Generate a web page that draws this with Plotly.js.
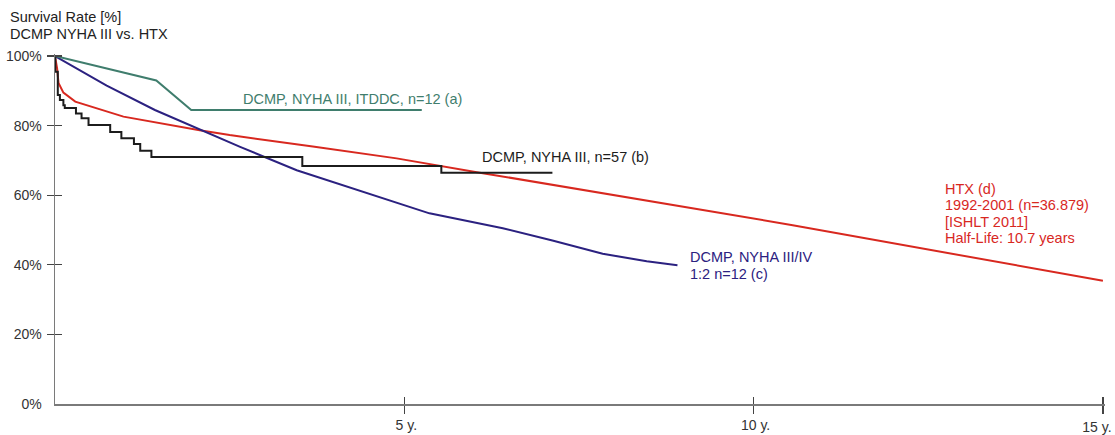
<!DOCTYPE html>
<html>
<head>
<meta charset="utf-8">
<script src="https://cdn.plot.ly/plotly-3.0.1.min.js"></script>
<style>
  html, body { margin: 0; padding: 0; background: #fff; }
  #chart { width: 1115px; height: 435px; }
</style>
</head>
<body>
<div id="chart"></div>
<script>
// ---- data (years after diagnosis / transplant, survival %) ----
const yearsA = [0, 1.45, 1.95, 5.25];
const survA  = [100, 93.0, 84.5, 84.5];
const labelA = ["DCMP, NYHA III, ITDDC, n=12 (a)"];

const yearsB = [0, 0.005, 0.04, 0.07, 0.12, 0.14, 0.30, 0.38, 0.48, 0.79, 0.95, 1.13, 1.22, 1.38, 3.54, 5.53, 7.12];
const survB  = [100, 95.5, 88.8, 87.4, 85.9, 85.1, 83.5, 82.1, 80.2, 78.2, 76.4, 74.7, 72.8, 71.0, 68.4, 66.5, 66.5];
const labelB = ["DCMP, NYHA III, n=57 (b)"];

const yearsC = [0, 0.74, 1.43, 2.65, 3.46, 4.32, 5.36, 6.41, 7.12, 7.84, 8.47, 8.91];
const survC  = [100, 91.5, 84.5, 73.9, 67.2, 61.5, 54.8, 50.5, 47.0, 43.2, 41.0, 39.9];
const labelC = ["DCMP, NYHA III/IV", "1:2 n=12 (c)"];

const yearsD = [0, 0.03, 0.05, 0.12, 0.29, 0.98, 2.07, 2.5, 3.69, 4.89, 6.08, 8.66, 10.56, 15];
const survD  = [100, 96.5, 92.3, 89.5, 86.9, 82.6, 78.7, 77.3, 74.0, 70.6, 66.5, 57.7, 51.4, 35.4];
const labelD = ["HTX (d)", "1992-2001 (n=36.879)", "[ISHLT 2011]", "Half-Life: 10.7 years"];

const titleLines = ["Survival Rate [%]", "DCMP NYHA III vs. HTX"];

const yTickVals = [0, 20, 40, 60, 80, 100];
const yTickText = ["0%", "20%", "40%", "60%", "80%", "100%"];
const xTickVals = [5, 10, 15];
const xTickText = ["5 y.", "10 y.", "15 y."];

// ---- styles ----
const FONT = "Liberation Sans, Arial, Helvetica, sans-serif";
const colA = "#3f7d6d", colB = "#1c1c1c", colC = "#2b2180", colD = "#d8281f";
const XR = [0, 15.03], YR = [0, 100.6];

function line(x, y, color) {
  return { x: x, y: y, type: "scatter", mode: "lines", line: { color: color, width: 2 },
           hoverinfo: "skip", showlegend: false };
}
const traces = [
  line(yearsD, survD, colD),
  line(yearsC, survC, colC),
  Object.assign(line(yearsB, survB, colB), { line: { color: colB, width: 2, shape: "hv" } }),
  line(yearsA, survA, colA),
  { x: [], y: [], xaxis: "x2", yaxis: "y2", type: "scatter", mode: "lines", showlegend: false, hoverinfo: "skip" },
  { x: [], y: [], yaxis: "y3", type: "scatter", mode: "lines", showlegend: false, hoverinfo: "skip" }
];

// label lines: anchor point (x, y of first line) and pixel line spacing
function labelAnn(lines, x, y, color, spacing) {
  return lines.map((t, i) => ({
    text: t, x: x, y: y, xref: "x", yref: "y", xanchor: "left", yanchor: "middle",
    yshift: -i * spacing, showarrow: false, font: { family: FONT, size: 14.5, color: color }
  }));
}
const annotations = [].concat(
  labelAnn(labelA, 2.66, 87.6, colA, 17),
  labelAnn(labelB, 6.08, 71.1, colB, 17),
  labelAnn(labelC, 9.06, 42.2, colC, 17),
  labelAnn(labelD, 12.71, 61.8, colD, 16.3),
  // second title line, placed under the layout title
  [{ text: titleLines[1], xref: "paper", yref: "paper", x: 0, y: 1, xanchor: "left", yanchor: "middle",
     xshift: -47, yshift: 54 - 34, showarrow: false, font: { family: FONT, size: 14.5, color: "#222" } }]
);

// the last x label sits on the overlay axis so it can be nudged inside the page
const lastIdx = xTickVals.length - 1;
const mainXText = xTickText.map((t, i) => (i === lastIdx ? "" : t));
const edgeXText = xTickText.map((t, i) => (i === lastIdx ? t : ""));

const layout = {
  width: 1115, height: 435,
  margin: { l: 55, r: 10, t: 54, b: 31, pad: 0 },
  paper_bgcolor: "#fff", plot_bgcolor: "#fff",
  font: { family: FONT, size: 14, color: "#333" },
  title: {
    text: titleLines[0],
    x: 10 / 1115, xref: "container", xanchor: "left",
    y: 1 - 17 / 435, yref: "container", yanchor: "middle",
    font: { family: FONT, size: 14.5, color: "#222" }
  },
  xaxis: {
    range: XR, showgrid: false, zeroline: false, showline: true,
    linecolor: "#7a7a7a", linewidth: 1.5,
    tickmode: "array", tickvals: xTickVals, ticktext: mainXText,
    ticks: "outside", ticklen: 8, tickwidth: 1.2, tickcolor: "#444",
    ticklabelshift: 2,
    tickfont: { family: FONT, size: 14, color: "#333" }, fixedrange: true
  },
  yaxis: {
    range: YR, showgrid: false, zeroline: false, showline: true,
    linecolor: "#7a7a7a", linewidth: 1.5,
    tickmode: "array", tickvals: yTickVals, ticktext: yTickText,
    ticks: "", ticklabelstandoff: 9,
    tickfont: { family: FONT, size: 14, color: "#333" }, fixedrange: true
  },
  xaxis2: {
    range: XR, overlaying: "x", anchor: "y2", side: "bottom",
    showgrid: false, zeroline: false, showline: false, showticklabels: true,
    tickmode: "array", tickvals: xTickVals, ticktext: edgeXText,
    ticks: "inside", ticklen: 7, tickwidth: 1.2, tickcolor: "#444",
    ticklabelshift: -6, ticklabelstandoff: 13, ticklabeloverflow: "allow",
    tickfont: { family: FONT, size: 14, color: "#333" }, fixedrange: true
  },
  yaxis2: {
    range: YR, overlaying: "y", anchor: "x2", side: "left",
    showgrid: false, zeroline: false, showline: false, showticklabels: false,
    tickmode: "array", tickvals: yTickVals.slice(1),
    ticks: "inside", ticklen: 7, tickwidth: 1.2, tickcolor: "#444", fixedrange: true
  },
  yaxis3: {
    range: YR, overlaying: "y", anchor: "x", side: "left",
    showgrid: false, zeroline: false, showline: false, showticklabels: false,
    tickmode: "array", tickvals: yTickVals.slice(1),
    ticks: "outside", ticklen: 7, tickwidth: 1.2, tickcolor: "#444", fixedrange: true
  },
  annotations: annotations
};

Plotly.newPlot("chart", traces, layout, { displayModeBar: false, staticPlot: true });
</script>
</body>
</html>
